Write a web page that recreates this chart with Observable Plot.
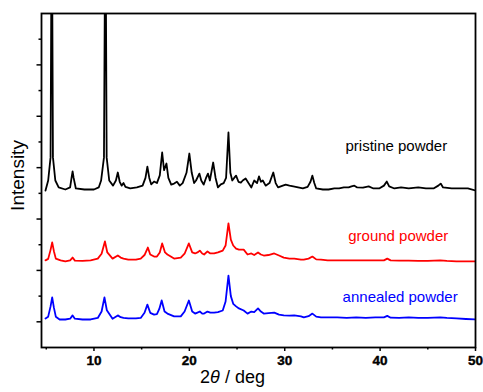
<!DOCTYPE html>
<html>
<head>
<meta charset="utf-8">
<script src="https://cdn.jsdelivr.net/npm/d3@7"></script>
<script src="https://cdn.jsdelivr.net/npm/@observablehq/plot@0.6"></script>
<style>
  html, body { margin: 0; padding: 0; background: #fff; }
  #chart { width: 483px; height: 392px; }
</style>
</head>
<body>
<div id="chart"></div>
<script>
// ---- data (2θ in deg, intensity in arbitrary units, traces already offset) ----
const seriesNames = ["pristine powder", "ground powder", "annealed powder"];
const seriesColors = ["#000000", "#ff0000", "#0000ff"];

const pristine = [
  [4.92,611],[5.2,650],[5.45,740],[5.58,1800],[5.7,740],[5.95,650],[6.3,623],[7.0,615],
  [7.5,623],[7.65,660],[7.76,685],[7.87,660],[8.1,619],[9.0,615],[10.0,615],[10.5,623],
  [10.75,650],[11.05,740],[11.2,1800],[11.33,740],[11.6,650],[12.0,630],[12.3,650],[12.5,681],
  [12.7,645],[12.9,630],[13.1,640],[13.3,625],[13.8,619],[14.5,623],[15.1,630],[15.4,660],
  [15.6,704],[15.8,660],[16.0,635],[16.3,646],[16.6,640],[16.9,670],[17.15,759],[17.35,690],
  [17.6,716],[17.8,660],[18.1,634],[18.4,638],[18.7,645],[19.0,630],[19.3,640],[19.7,680],
  [20.0,755],[20.25,680],[20.5,640],[20.7,650],[21.05,677],[21.25,650],[21.5,634],[21.75,660],
  [21.95,677],[22.15,650],[22.5,720],[22.75,660],[23.0,623],[23.3,635],[23.6,640],[23.85,660],
  [24.1,837],[24.3,680],[24.5,650],[24.7,660],[24.9,669],[25.15,645],[25.4,642],[25.6,650],
  [25.9,658],[26.2,640],[26.5,623],[26.8,650],[27.1,640],[27.3,666],[27.5,645],[27.7,650],
  [28.0,630],[28.4,640],[28.8,681],[29.05,640],[29.3,623],[29.8,630],[30.1,634],[30.5,630],
  [30.9,627],[31.4,623],[31.9,619],[32.4,625],[32.7,645],[32.9,669],[33.1,640],[33.3,619],
  [34.0,615],[34.6,615],[35.2,619],[35.7,619],[36.2,623],[36.7,623],[37.0,627],[37.3,630],
  [37.6,623],[38.2,622],[38.8,627],[39.3,619],[39.9,619],[40.4,630],[40.7,646],[40.95,627],
  [41.5,619],[42.2,623],[43.0,619],[44.0,623],[44.8,619],[45.6,619],[46.1,630],[46.35,638],
  [46.6,623],[47.5,619],[48.3,619],[49.2,619],[50.0,611]
];

const ground = [
  [4.92,339],[5.2,345],[5.45,380],[5.62,409],[5.8,375],[6.0,346],[6.5,339],[7.0,335],
  [7.5,339],[7.76,350],[8.0,338],[8.8,337],[9.65,339],[10.4,346],[10.8,365],[11.15,413],
  [11.4,370],[11.95,346],[12.5,358],[12.8,350],[13.1,346],[13.6,342],[14.4,342],[14.9,346],
  [15.3,360],[15.65,389],[15.9,362],[16.3,354],[16.6,354],[16.9,370],[17.15,405],[17.45,370],
  [17.7,362],[18.4,346],[19.1,350],[19.5,365],[19.95,405],[20.3,370],[20.6,366],[20.85,370],
  [21.1,377],[21.35,366],[21.55,362],[21.9,374],[22.2,366],[22.6,366],[23.0,370],[23.5,377],
  [23.8,397],[24.1,483],[24.35,420],[24.6,397],[24.9,385],[25.2,381],[25.7,381],[26.1,362],
  [26.5,366],[26.8,360],[27.2,370],[27.5,362],[27.8,358],[28.3,360],[28.9,366],[29.4,358],
  [29.9,350],[30.5,346],[31.0,346],[31.7,342],[32.0,342],[32.5,346],[32.9,354],[33.3,343],
  [33.8,342],[34.5,339],[35.5,339],[36.5,339],[37.5,339],[38.5,339],[39.5,339],[40.4,339],
  [40.75,346],[41.1,339],[42.0,338],[43.0,338],[44.0,337],[45.0,337],[46.3,339],[47.0,337],
  [48.0,335],[49.0,335],[50.0,335]
];

const annealed = [
  [4.92,113],[5.2,120],[5.45,160],[5.62,195],[5.8,155],[6.0,120],[6.4,109],[7.0,109],
  [7.5,112],[7.76,125],[8.0,112],[8.8,109],[9.65,109],[10.4,115],[10.8,140],[11.1,195],
  [11.35,145],[11.95,112],[12.5,125],[12.8,118],[13.1,115],[13.6,113],[14.4,113],[14.9,115],
  [15.3,135],[15.6,167],[15.9,135],[16.3,128],[16.6,130],[16.85,150],[17.1,183],[17.4,140],
  [17.7,132],[18.4,121],[19.1,121],[19.5,140],[19.95,183],[20.3,140],[20.6,132],[20.85,136],
  [21.1,140],[21.35,132],[21.55,132],[21.9,140],[22.2,136],[22.6,136],[23.0,138],[23.5,144],
  [23.8,179],[24.1,280],[24.35,200],[24.6,170],[24.9,160],[25.2,152],[25.7,144],[26.1,132],
  [26.5,140],[26.8,138],[27.2,152],[27.5,140],[27.8,132],[28.3,134],[28.9,136],[29.4,128],
  [29.9,125],[30.5,124],[31.0,125],[31.7,121],[32.0,117],[32.5,122],[32.9,132],[33.3,120],
  [33.8,117],[34.5,117],[35.5,117],[36.5,115],[37.5,117],[38.5,115],[39.5,117],[40.4,117],
  [40.75,123],[41.1,116],[42.0,115],[43.0,117],[44.0,115],[45.0,115],[46.3,117],[47.0,115],
  [48.0,113],[49.0,111],[50.0,109]
];

const xMajorTicks = [10, 20, 30, 40, 50];
const xMinorTicks = [5, 15, 25, 35, 45];
const yMajorTicks = [100, 300, 500, 700, 900, 1100];
const yMinorTicks = [200, 400, 600, 800, 1000, 1200];

// label anchor points (data coords) for series names
const labelX = [41.7, 41.9, 42.1];
const labelY = [782, 432, 195];

// ---- build table ----
const traces = [pristine, ground, annealed];
const rows = traces.flatMap((t, i) => t.map(([x, y]) => ({x, y, s: seriesNames[i]})));
const labels = seriesNames.map((s, i) => ({s, x: labelX[i], y: labelY[i]}));

const FONT = "'Liberation Sans', Arial, Helvetica, sans-serif";

const plot = Plot.plot({
  width: 483,
  height: 392,
  marginLeft: 41,
  marginRight: 8,
  marginTop: 13,
  marginBottom: 45,
  style: {fontFamily: FONT, background: "#fff", overflow: "visible"},
  x: {domain: [4.5, 50]},
  y: {domain: [0, 1300]},
  color: {domain: seriesNames, range: seriesColors},
  marks: [
    Plot.line(rows, {x: "x", y: "y", z: "s", stroke: "s", strokeWidth: 1.8, clip: true, strokeLinejoin: "round"}),
    Plot.text(labels, {x: "x", y: "y", text: "s", fill: "s", fontSize: 15, textAnchor: "middle"}),
    Plot.frame({stroke: "#000", strokeWidth: 1.8}),
    Plot.axisX(xMajorTicks, {tickSize: 4, strokeWidth: 1.5, tickFormat: () => "", label: null}),
    Plot.text(xMajorTicks, {x: (d) => d, text: (d) => String(d), frameAnchor: "bottom", dy: 17, fontSize: 13.5, fontWeight: "bold", fill: "#000", stroke: "#000", strokeWidth: 0.4}),
    Plot.axisX(xMinorTicks, {tickSize: 2.5, strokeWidth: 1.5, tickFormat: () => "", label: null}),
    Plot.axisY(yMajorTicks, {tickSize: 4.5, strokeWidth: 1.5, tickFormat: () => "", label: null}),
    Plot.axisY(yMinorTicks, {tickSize: 2.5, strokeWidth: 1.5, tickFormat: () => "", label: null}),
    Plot.text(["Intensity"], {frameAnchor: "left", rotate: -90, dx: -24, dy: -5, fontSize: 19, fill: "#000", textAnchor: "middle"}),
    Plot.text(["2θ / deg"], {frameAnchor: "bottom", dx: -26, dy: 35, fontSize: 18, fill: "#000", textAnchor: "middle"})
  ]
});

// italicize θ in the x title
d3.select(plot).selectAll("text").filter(function () { return this.textContent === "2θ / deg"; })
  .each(function () {
    const t = d3.select(this);
    t.text(null);
    t.append("tspan").text("2");
    t.append("tspan").attr("font-style", "italic").text("θ");
    t.append("tspan").text(" / deg");
  });

document.getElementById("chart").appendChild(plot);
</script>
</body>
</html>
